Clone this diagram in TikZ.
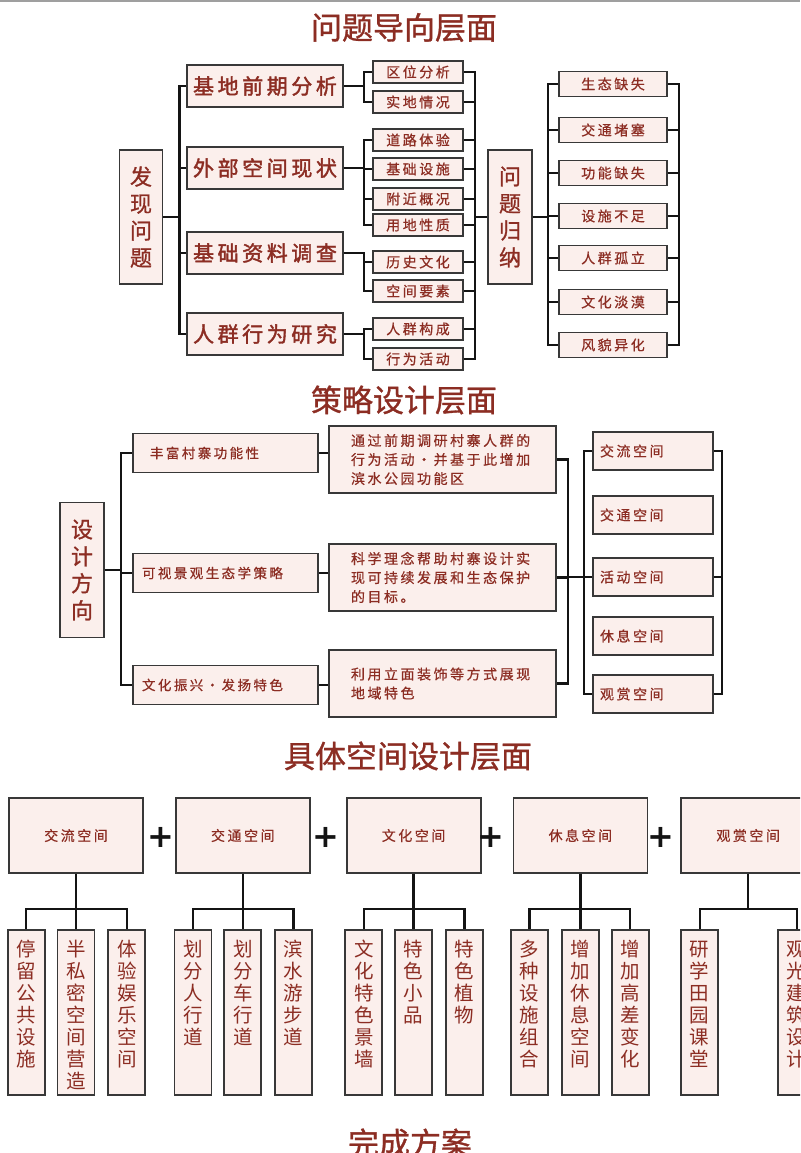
\documentclass[tikz,border=0pt]{standalone}
\usepackage{fontspec}
\setmainfont{Noto Sans CJK SC}
\newfontfamily\spaced[LetterSpace=18, FakeBold=0.6]{Noto Sans CJK SC}
\newfontfamily\spacedheavy[LetterSpace=17, FakeBold=1.8]{Noto Sans CJK SC}
\newfontfamily\headfont[FakeBold=1]{Noto Sans CJK SC}
\newfontfamily\plusfont{DejaVu Sans}
\usetikzlibrary{positioning}
\definecolor{brick}{HTML}{8C2D23}
\definecolor{blush}{HTML}{FBEFEC}
\definecolor{edge}{HTML}{383838}
\definecolor{ink}{HTML}{141414}
\tikzstyle{heading} = [text=brick, font=\headfont\fontsize{31}{31}\selectfont, inner sep=0pt]
\tikzstyle{box} = [rectangle, draw=edge, fill=blush, line width=1.8pt, text=brick, inner sep=0pt]
\tikzstyle{tallbox} = [box, minimum width=43pt, minimum height=134pt, text width=24pt, align=center, font=\headfont\fontsize{22}{27}\selectfont]
\tikzstyle{mainbox} = [box, minimum width=156pt, minimum height=42pt, font=\spacedheavy\fontsize{21}{21}\selectfont]
\tikzstyle{subbox} = [box, minimum width=90pt, minimum height=22pt, font=\spaced\fontsize{14}{14}\selectfont]
\tikzstyle{issue} = [box, minimum width=108pt, minimum height=25pt, font=\spaced\fontsize{14}{14}\selectfont]
\tikzstyle{strat} = [box, minimum width=185pt, minimum height=39pt, text width=167pt, align=left, font=\spaced\fontsize{13.5}{13.5}\selectfont]
\tikzstyle{note} = [box, minimum width=227pt, minimum height=67pt, text width=183pt, align=left, font=\spaced\fontsize{14}{19}\selectfont]
\tikzstyle{spacebox} = [box, minimum width=120pt, minimum height=38pt, text width=106pt, align=left, font=\spaced\fontsize{14}{14}\selectfont]
\tikzstyle{groupbox} = [box, minimum width=134pt, minimum height=75pt, font=\spaced\fontsize{14}{14}\selectfont]
\tikzstyle{leaf} = [box, minimum width=37pt, text width=20pt, align=center, inner ysep=10pt, text height=17pt, text depth=128pt, font=\fontsize{19.5}{22}\selectfont]
\tikzstyle{plussign} = [text=ink, font=\plusfont\bfseries\fontsize{32}{32}\selectfont, inner sep=0pt]
\tikzstyle{link} = [draw=ink, line width=2.4pt]

\begin{document}
\begin{tikzpicture}[x=1pt, y=-1pt]
\useasboundingbox (0,0) rectangle (800,1153);
\clip (0,0) rectangle (800,1153);
\draw [gray!75, line width=2pt] (0,1) -- (800,1);

% problem level
\node (t1) [heading] at (404,27.5) {问题导向层面};
\node (find) [tallbox] at (141,217) {发\\现\\问\\题};

\node (base) [mainbox] at (265,86) {基地前期分析};
\node (outer) [mainbox] at (265,168) {外部空间现状};
\node (data) [mainbox] at (265,253) {基础资料调查};
\node (crowd) [mainbox] at (265,334) {人群行为研究};

\node (loc) [subbox] at (418,72) {区位分析};
\node (site) [subbox] at (418,102) {实地情况};
\node (road) [subbox] at (418,140) {道路体验};
\node (infra) [subbox] at (418,169) {基础设施};
\node (near) [subbox] at (418,199) {附近概况};
\node (land) [subbox] at (418,225) {用地性质};
\node (hist) [subbox] at (418,262) {历史文化};
\node (elem) [subbox] at (418,291) {空间要素};
\node (comp) [subbox] at (418,329) {人群构成};
\node (act) [subbox] at (418,359) {行为活动};

\node (sum) [tallbox, minimum width=44pt] at (510,217) {问\\题\\归\\纳};

\node (eco) [issue] at (613,84) {生态缺失};
\node (traffic) [issue] at (613,130) {交通堵塞};
\node (func) [issue] at (613,173) {功能缺失};
\node (facil) [issue] at (613,216) {设施不足};
\node (isol) [issue] at (613,258) {人群孤立};
\node (cult) [issue] at (613,302) {文化淡漠};
\node (look) [issue] at (613,345) {风貌异化};

\draw [link] (find.east) -- ++(16,0) |- (base.west);
\draw [link] (find.east) -- ++(16,0) |- (outer.west);
\draw [link] (find.east) -- ++(16,0) |- (data.west);
\draw [link] (find.east) -- ++(16,0) |- (crowd.west);

\draw [link] (base.east) -- ++(20,0) |- (loc.west);
\draw [link] (base.east) -- ++(20,0) |- (site.west);
\draw [link] (outer.east) -- ++(20,0) |- (road.west);
\draw [link] (outer.east) -- ++(20,0) |- (infra.west);
\draw [link] (outer.east) -- ++(20,0) |- (near.west);
\draw [link] (outer.east) -- ++(20,0) |- (land.west);
\draw [link] (data.east) -- ++(20,0) |- (hist.west);
\draw [link] (data.east) -- ++(20,0) |- (elem.west);
\draw [link] (crowd.east) -- ++(20,0) |- (comp.west);
\draw [link] (crowd.east) -- ++(20,0) |- (act.west);

\draw [link] (loc.east) -- ++(11,0) |- (sum.west);
\draw [link] (site.east) -- ++(11,0) |- (sum.west);
\draw [link] (road.east) -- ++(11,0) |- (sum.west);
\draw [link] (infra.east) -- ++(11,0) |- (sum.west);
\draw [link] (near.east) -- ++(11,0) |- (sum.west);
\draw [link] (land.east) -- ++(11,0) |- (sum.west);
\draw [link] (hist.east) -- ++(11,0) |- (sum.west);
\draw [link] (elem.east) -- ++(11,0) |- (sum.west);
\draw [link] (comp.east) -- ++(11,0) |- (sum.west);
\draw [link] (act.east) -- ++(11,0) |- (sum.west);

\draw [link] (sum.east) -- ++(15,0) |- (eco.west);
\draw [link] (sum.east) -- ++(15,0) |- (traffic.west);
\draw [link] (sum.east) -- ++(15,0) |- (func.west);
\draw [link] (sum.east) -- ++(15,0) |- (facil.west);
\draw [link] (sum.east) -- ++(15,0) |- (isol.west);
\draw [link] (sum.east) -- ++(15,0) |- (cult.west);
\draw [link] (sum.east) -- ++(15,0) |- (look.west);

\draw [link] (eco.east) -- ++(11,0) |- (look.east);
\draw [link] (traffic.east) -- ++(11,0);
\draw [link] (func.east) -- ++(11,0);
\draw [link] (facil.east) -- ++(11,0);
\draw [link] (isol.east) -- ++(11,0);
\draw [link] (cult.east) -- ++(11,0);

% strategy level
\node (t2) [heading] at (404,400) {策略设计层面};
\node (dir) [tallbox, minimum width=44pt, minimum height=135pt] at (82,570) {设\\计\\方\\向};

\node (l1) [strat] at (225.5,453) {\hspace{8pt}丰富村寨功能性};
\node (l2) [strat] at (225.5,573) {可视景观生态学策略};
\node (l3) [strat] at (225.5,685) {文化振兴・发扬特色};

\node (m1) [note] at (442.5,459.5) {通过前期调研村寨人群的\\行为活动・并基于此增加\\滨水公园功能区};
\node (m2) [note] at (442.5,577.5) {科学理念帮助村寨设计实\\现可持续发展和生态保护\\的目标。};
\node (m3) [note] at (442.5,683.5) {利用立面装饰等方式展现\\地域特色};

\node (sp1) [spacebox] at (653,451) {交流空间};
\node (sp2) [spacebox] at (653,515) {交通空间};
\node (sp3) [spacebox] at (653,577) {活动空间};
\node (sp4) [spacebox] at (653,636) {休息空间};
\node (sp5) [spacebox] at (653,694) {观赏空间};

\draw [link] (dir.east) -- ++(16,0) |- (l1.west);
\draw [link] (dir.east) -- ++(16,0) |- (l2.west);
\draw [link] (dir.east) -- ++(16,0) |- (l3.west);

\draw [link] (l1.east) -- (l1.east -| m1.west);
\draw [link] (l2.east) -- (l2.east -| m2.west);
\draw [link] (l3.east) -- (l3.east -| m3.west);

\draw [link] (m1.east) -- ++(11,0) |- (sp3.west);
\draw [link] (m2.east) -- ++(11,0) |- (sp3.west);
\draw [link] (m3.east) -- ++(11,0) |- (sp3.west);

\draw [link] (sp1.west) -- ++(-8,0) |- (sp5.west);
\draw [link] (sp1.east) -- ++(8,0) |- (sp5.east);
\draw [link] (sp3.east) -- ++(8,0);

% space level
\node (t3) [heading] at (408,756) {具体空间设计层面};

\node (xc) [groupbox] at (76,835.5) {交流空间};
\node (tr) [groupbox, right=31pt of xc] {交通空间};
\node (cu) [groupbox, right=35pt of tr] {文化空间};
\node (re) [groupbox, right=31pt of cu] {休息空间};
\node (vi) [groupbox, right=32pt of re] {观赏空间};

\node (p1) [plussign] at (161,837.5) {+};
\node (p2) [plussign] at (325.5,837.5) {+};
\node (p3) [plussign] at (491,837.5) {+};
\node (p4) [plussign] at (661,837.5) {+};

\node (c1b) [leaf, below=55pt of xc] {半\\私\\密\\空\\间\\营\\造};
\node (c1a) [leaf, left=11pt of c1b] {停\\留\\公\\共\\设\\施};
\node (c1c) [leaf, right=12pt of c1b] {体\\验\\娱\\乐\\空\\间};

\node (c2b) [leaf, below=55pt of tr] {划\\分\\车\\行\\道};
\node (c2a) [leaf, left=11pt of c2b] {划\\分\\人\\行\\道};
\node (c2c) [leaf, right=12pt of c2b] {滨\\水\\游\\步\\道};

\node (c3b) [leaf, below=55pt of cu] {特\\色\\小\\品};
\node (c3a) [leaf, left=11pt of c3b] {文\\化\\特\\色\\景\\墙};
\node (c3c) [leaf, right=12pt of c3b] {特\\色\\植\\物};

\node (c4b) [leaf, below=55pt of re] {增\\加\\休\\息\\空\\间};
\node (c4a) [leaf, left=12pt of c4b] {多\\种\\设\\施\\组\\合};
\node (c4c) [leaf, right=11pt of c4b] {增\\加\\高\\差\\变\\化};

\node (c5a) [leaf, below right=55pt and 0pt of vi.south west] {研\\学\\田\\园\\课\\堂};
\node (c5b) [leaf, below left=55pt and 0pt of vi.south east] {观\\光\\建\\筑\\设\\计};

\draw [link] (xc.south) -- ++(0,35) -| (c1a.north);
\draw [link] (xc.south) -- ++(0,35) -| (c1c.north);
\draw [link] (xc) -- (c1b);
\draw [link] (tr.south) -- ++(0,35) -| (c2a.north);
\draw [link] (tr.south) -- ++(0,35) -| (c2c.north);
\draw [link] (tr) -- (c2b);
\draw [link] (cu.south) -- ++(0,35) -| (c3a.north);
\draw [link] (cu.south) -- ++(0,35) -| (c3c.north);
\draw [link] (cu) -- (c3b);
\draw [link] (re.south) -- ++(0,35) -| (c4a.north);
\draw [link] (re.south) -- ++(0,35) -| (c4c.north);
\draw [link] (re) -- (c4b);
\draw [link] (vi.south) -- ++(0,35) -| (c5a.north);
\draw [link] (vi.south) -- ++(0,35) -| (c5b.north);

\node (t4) [heading] at (410,1143) {完成方案};
\end{tikzpicture}
\end{document}
